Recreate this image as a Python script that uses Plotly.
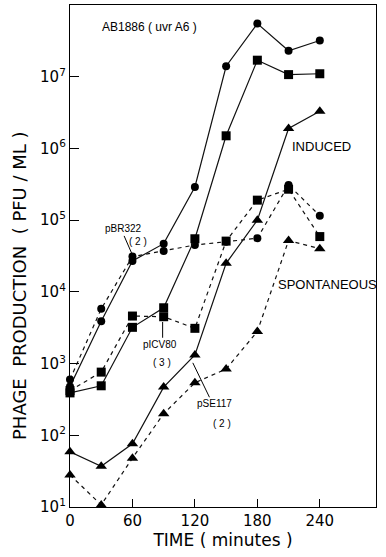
import plotly.graph_objects as go

time = [0, 30, 60, 90, 120, 150, 180, 210, 240]
pbr322_induced = [480, 3900, 27000, 47000, 290000, 1.4e7, 5.5e7, 2.3e7, 3.2e7]
pbr322_spont = [600, 5800, 31000, 37000, 45000, 50000, 56000, 310000, 115000]
picv80_induced = [390, 490, 3200, 6000, 55000, 1.5e6, 1.7e7, 1.07e7, 1.1e7]
picv80_spont = [420, 760, 4600, 4500, 3100, 51000, 190000, 270000, 59000]
pse117_induced = [59, 37, 76, 470, 1320, 25000, 100000, 1.9e6, 3.3e6]
pse117_spont = [28, 10.7, 48, 200, 540, 840, 2800, 52000, 40000]

x_ticks = [0, 60, 120, 180, 240]
y_ticks = [10, 100, 1e3, 1e4, 1e5, 1e6, 1e7]
y_ticktext = ["10<sup>%d</sup>" % e for e in range(1, 8)]

FONT = "Liberation Sans"
WIDE = "DejaVu Sans"
fig = go.Figure()

def add(y, symbol, dash, size):
    fig.add_trace(go.Scatter(
        x=time, y=y, mode="lines+markers", cliponaxis=False,
        line=dict(color="#111", width=1.2, dash=dash),
        marker=dict(symbol=symbol, size=size, color="black"),
        showlegend=False, hoverinfo="skip"))

add(pbr322_induced, "circle", "solid", 8)
add(pbr322_spont, "circle", "4px,4px", 8)
add(picv80_induced, "square", "solid", 9)
add(picv80_spont, "square", "4px,4px", 9)
add(pse117_induced, "triangle-up", "solid", 10)
add(pse117_spont, "triangle-up", "4px,4px", 10)

# pointer lines from labels to curves
pointers = [([52, 59.5], [10**4.78, 10**4.53]),
            ([89, 89], [10**3.58, 10**3.36]),
            ([118, 134], [10**3.01, 10**2.53])]
for px, py in pointers:
    fig.add_trace(go.Scatter(x=px, y=py, mode="lines",
                             line=dict(color="black", width=1),
                             showlegend=False, hoverinfo="skip"))

def label(text, x, ly, size, anchor="center"):
    fig.add_annotation(x=x, y=ly, xref="x", yref="y", text=text,
                       showarrow=False, xanchor=anchor,
                       font=dict(family=FONT, size=size, color="black"))

label("AB1886 ( uvr A6 )", 28.8, 7.69, 12, "left")
label("INDUCED", 242, 6.02, 13)
label("SPONTANEOUS", 247, 4.10, 13)
label("pBR322", 51.4, 4.89, 10)
label("( 2 )", 65, 4.70, 10)
label("pICV80", 86.4, 3.26, 10)
label("( 3 )", 88.3, 3.01, 10)
label("pSE117", 139, 2.45, 10)
label("( 2 )", 146, 2.17, 10)

fig.add_annotation(x=(19 - 70) / 306, y=(557 - 286 - 50) / 502, xref="paper", yref="paper",
                   text="PHAGE  PRODUCTION  ( PFU / ML )", xanchor="center", yanchor="middle",
                   showarrow=False, textangle=-90,
                   font=dict(family=WIDE, size=18, color="black"))

fig.update_layout(
    width=386, height=557,
    margin=dict(l=70, r=10, t=5, b=50),
    paper_bgcolor="white", plot_bgcolor="white",
    font=dict(family=FONT, size=14, color="black"),
    xaxis=dict(range=[0, 294], tickvals=x_ticks, ticks="inside", ticklen=8,
               showline=True, linecolor="black", linewidth=1.3, mirror=True,
               showgrid=False, zeroline=False, tickcolor="black",
               tickfont=dict(family=WIDE, size=15),
               title=dict(text="TIME ( minutes )", font=dict(family=WIDE, size=17), standoff=4)),
    yaxis=dict(type="log", range=[1, 8], tickvals=y_ticks, ticktext=y_ticktext,
               ticks="inside", ticklen=9, showline=True, linecolor="black",
               linewidth=1.3, mirror=True, showgrid=False, zeroline=False,
               tickcolor="black", tickfont=dict(family=WIDE, size=15)),
)
fig.write_html("out.html", config={"displayModeBar": False},
               post_script="document.body.style.margin='0';")
